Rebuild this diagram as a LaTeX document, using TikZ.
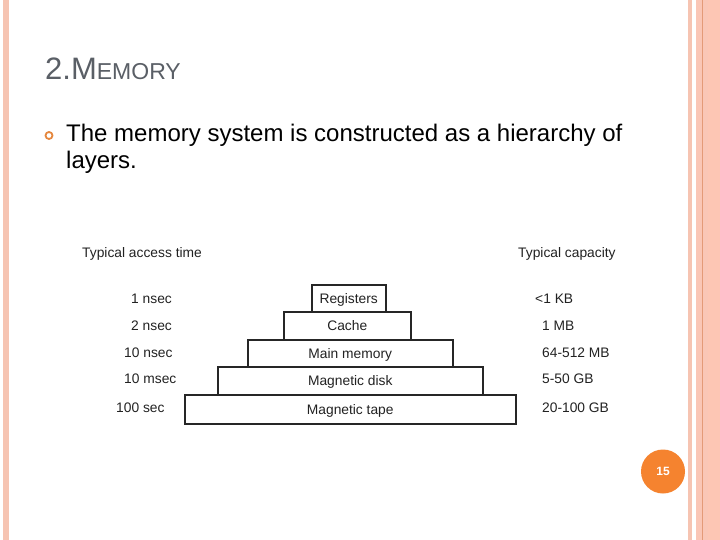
\documentclass[tikz,border=0pt]{standalone}
\usepackage{fontspec}
\setmainfont{Liberation Sans}
\definecolor{stripeA}{HTML}{F6C4B2}
\definecolor{stripeB}{HTML}{FAC6B6}
\definecolor{stripeC}{HTML}{FDC6B4}
\definecolor{stripeLine}{HTML}{E49A78}
\definecolor{titlegrey}{HTML}{5A5F66}
\definecolor{bulletorange}{HTML}{E5873E}
\definecolor{circorange}{HTML}{F5832F}
\definecolor{diagtext}{HTML}{222222}
\tikzset{
  membox/.style={draw=black!85, line width=1.5pt, inner sep=0pt, anchor=north west},
  lbl/.style={font=\fontsize{13.8}{16}\selectfont, text=diagtext, inner sep=0pt},
  boxtext/.style={font=\fontsize{13.8}{16}\selectfont, text=diagtext, inner sep=0pt},
}
\begin{document}
\begin{tikzpicture}[x=1pt,y=-1pt]
\useasboundingbox (0,0) rectangle (720,540);
\fill[white] (0,0) rectangle (720,540);
% left border stripe
\fill[stripeA] (3,0) rectangle (9,540);
% right border stripes
\fill[stripeA] (688,0) rectangle (692,540);
\fill[stripeB] (696,0) rectangle (720,540);
\fill[stripeC] (708,0) rectangle (720,540);
\fill[stripeLine] (702,0) rectangle (703.2,540);
% title
\node[anchor=base west, inner sep=0pt, text=titlegrey] (title) at (45,80)
  {\fontsize{31}{35}\selectfont 2.M\fontsize{23}{27}\selectfont EMORY};
% bullet
\node[circle, draw=bulletorange, line width=1.8pt, minimum size=7pt, inner sep=0pt] (bul) at (49,135.5) {};
\node[anchor=base west, inner sep=0pt, font=\fontsize{24}{28}\selectfont] (l1) at (66,141.7)
  {The memory system is constructed as a hierarchy of};
\node[anchor=base west, inner sep=0pt, font=\fontsize{24}{28}\selectfont] (l2) at (66,168.5)
  {layers.};
% headings
\node[lbl, anchor=base west] (hl) at (82,258) {Typical access time};
\node[lbl, anchor=base west] (hr) at (518,258) {Typical capacity};
% boxes
\node[membox, minimum width=74pt, minimum height=27pt] (reg) at (311,284) {};
\node[membox, minimum width=127pt, minimum height=28pt] (cache) at (283,311) {};
\node[membox, minimum width=205pt, minimum height=27pt] (main) at (247,339) {};
\node[membox, minimum width=265pt, minimum height=28pt] (disk) at (217,366) {};
\node[membox, minimum width=331pt, minimum height=29pt] (tape) at (184,394) {};
\node[boxtext, anchor=base] at ([yshift=-5pt]reg.center) {Registers};
\node[boxtext, anchor=base] at ([yshift=-5pt]cache.center) {Cache};
\node[boxtext, anchor=base] at ([yshift=-5pt]main.center) {Main memory};
\node[boxtext, anchor=base] at ([yshift=-5pt]disk.center) {Magnetic disk};
\node[boxtext, anchor=base] at ([yshift=-5pt]tape.center) {Magnetic tape};
% left labels
\node[lbl, anchor=base west] (t1) at (131,303.5) {1 nsec};
\node[lbl, anchor=base west] (t2) at (131,330.5) {2 nsec};
\node[lbl, anchor=base west] (t3) at (124,357.5) {10 nsec};
\node[lbl, anchor=base west] (t4) at (124,383.5) {10 msec};
\node[lbl, anchor=base west] (t5) at (116,412) {100 sec};
% right labels
\node[lbl, anchor=base west] (c1) at (535,303.5) {<1 KB};
\node[lbl, anchor=base west] (c2) at (542,330.5) {1 MB};
\node[lbl, anchor=base west] (c3) at (542,357.5) {64-512 MB};
\node[lbl, anchor=base west] (c4) at (542,383.5) {5-50 GB};
\node[lbl, anchor=base west] (c5) at (542,412) {20-100 GB};
% page number
\node[circle, fill=circorange, minimum size=44pt, inner sep=0pt, text=white,
  font=\bfseries\fontsize{12}{14}\selectfont] (pg) at (663,471.5) {15};
\end{tikzpicture}
\end{document}
